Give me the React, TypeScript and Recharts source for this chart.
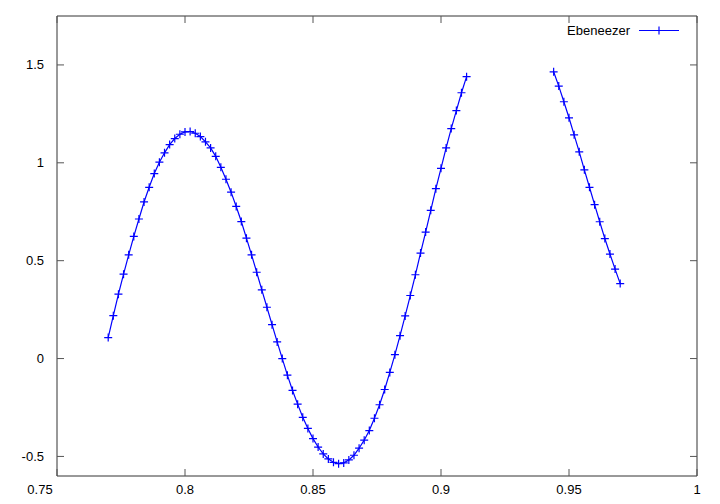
import { LineChart, Line, XAxis, YAxis } from 'recharts';

// first run of points, before the gap
const seg1X = [
  0.770, 0.772, 0.774, 0.776, 0.778, 0.780, 0.782, 0.784, 0.786, 0.788,
  0.790, 0.792, 0.794, 0.796, 0.798, 0.800, 0.802, 0.804, 0.806, 0.808,
  0.810, 0.812, 0.814, 0.816, 0.818, 0.820, 0.822, 0.824, 0.826, 0.828,
  0.830, 0.832, 0.834, 0.836, 0.838, 0.840, 0.842, 0.844, 0.846, 0.848,
  0.850, 0.852, 0.854, 0.856, 0.858, 0.860, 0.862, 0.864, 0.866, 0.868,
  0.870, 0.872, 0.874, 0.876, 0.878, 0.880, 0.882, 0.884, 0.886, 0.888,
  0.890, 0.892, 0.894, 0.896, 0.898, 0.900, 0.902, 0.904, 0.906, 0.908,
  0.910,
];
const seg1Y = [
  0.107, 0.219, 0.329, 0.431, 0.530, 0.624, 0.713, 0.800, 0.875, 0.945,
  1.003, 1.051, 1.093, 1.124, 1.146, 1.158, 1.160, 1.151, 1.134, 1.107,
  1.076, 1.033, 0.977, 0.916, 0.850, 0.777, 0.700, 0.615, 0.530, 0.441,
  0.351, 0.262, 0.173, 0.085, 0.000, -0.085, -0.163, -0.233, -0.300, -0.357,
  -0.409, -0.452, -0.487, -0.513, -0.530, -0.537, -0.533, -0.518, -0.494, -0.458,
  -0.417, -0.368, -0.305, -0.236, -0.158, -0.071, 0.020, 0.117, 0.218, 0.322,
  0.428, 0.539, 0.646, 0.757, 0.868, 0.972, 1.076, 1.175, 1.267, 1.358,
  1.440,
];

// second run, after the gap
const seg2X = [
  0.944, 0.946, 0.948, 0.950, 0.952, 0.954, 0.956, 0.958, 0.960, 0.962,
  0.964, 0.966, 0.968, 0.970,
];
const seg2Y = [
  1.465, 1.392, 1.312, 1.230, 1.143, 1.056, 0.964, 0.875, 0.786, 0.699,
  0.613, 0.534, 0.457, 0.383,
];

const xTicks = [0.75, 0.8, 0.85, 0.9, 0.95, 1];
const yTicks = [-0.5, 0, 0.5, 1, 1.5];
const seriesName = 'Ebeneezer';

const seg1 = seg1X.map((x, i) => ({ x, y: seg1Y[i] }));
const seg2 = seg2X.map((x, i) => ({ x, y: seg2Y[i] }));

const BLUE = '#0000ff';
const FRAME = '#333333';
const TICK_COLOR = '#555555';
const FONT = '"Liberation Sans", Arial, sans-serif';
const TICK = 7;

function PlusDot(props: any) {
  const { cx, cy, index } = props;
  if (cx == null || cy == null) return <g key={index} />;
  return (
    <path
      key={index}
      d={`M${cx - 4},${cy}H${cx + 4}M${cx},${cy - 4}V${cy + 4}`}
      stroke={BLUE}
      strokeWidth={1.2}
      fill="none"
    />
  );
}

function BottomTick({ x, y, payload, index }: any) {
  return (
    <g>
      <line x1={x} x2={x} y1={y} y2={y - TICK} stroke={TICK_COLOR} />
      <text x={x + (index === 0 ? -17 : 0)} y={y + 18} textAnchor="middle" fontSize={13} fontFamily={FONT} fill="#000">
        {payload.value}
      </text>
    </g>
  );
}

function TopTick({ x, y }: any) {
  return <line x1={x} x2={x} y1={y} y2={y + TICK} stroke={TICK_COLOR} />;
}

function LeftTick({ x, y, payload }: any) {
  return (
    <g>
      <line x1={x} x2={x + TICK} y1={y} y2={y} stroke={TICK_COLOR} />
      <text x={x - 13} y={y + 4.5} textAnchor="end" fontSize={13} fontFamily={FONT} fill="#000">
        {payload.value}
      </text>
    </g>
  );
}

function RightTick({ x, y }: any) {
  return <line x1={x} x2={x - TICK} y1={y} y2={y} stroke={TICK_COLOR} />;
}

function LegendBox() {
  return (
    <svg width={140} height={24} style={{ position: 'absolute', left: 555, top: 19 }}>
      <text x={75} y={16} textAnchor="end" fontSize={13} fontFamily={FONT} fill="#000">
        {seriesName}
      </text>
      <line x1={84} x2={124} y1={11.5} y2={11.5} stroke={BLUE} strokeWidth={1.2} />
      <path d="M100,11.5H108M104,7.5V15.5" stroke={BLUE} strokeWidth={1.2} />
    </svg>
  );
}

export default function App() {
  return (
    <div style={{ position: 'absolute', left: 0, top: 0, width: 720, height: 504, background: '#fff' }}>
      <LineChart width={720} height={504} margin={{ top: 0, right: 0, bottom: 0, left: 0 }}>
        <XAxis
          dataKey="x"
          type="number"
          domain={[0.75, 1]}
          ticks={xTicks}
          allowDataOverflow
          height={28}
          tickSize={0}
          tickMargin={0}
          tickLine={false}
          axisLine={{ stroke: FRAME }}
          tick={BottomTick}
        />
        <XAxis
          xAxisId="top"
          orientation="top"
          dataKey="x"
          type="number"
          domain={[0.75, 1]}
          ticks={xTicks}
          allowDataOverflow
          height={16}
          tickSize={0}
          tickMargin={0}
          tickLine={false}
          axisLine={{ stroke: FRAME }}
          tick={TopTick}
        />
        <YAxis
          type="number"
          domain={[-0.6, 1.75]}
          ticks={yTicks}
          allowDataOverflow
          width={57}
          tickSize={0}
          tickMargin={0}
          tickLine={false}
          axisLine={{ stroke: FRAME }}
          tick={LeftTick}
        />
        <YAxis
          yAxisId="right"
          orientation="right"
          type="number"
          domain={[-0.6, 1.75]}
          ticks={yTicks}
          allowDataOverflow
          width={23}
          tickSize={0}
          tickMargin={0}
          tickLine={false}
          axisLine={{ stroke: FRAME }}
          tick={RightTick}
        />
        <Line
          data={seg1}
          dataKey="y"
          name={seriesName}
          type="linear"
          stroke={BLUE}
          strokeWidth={1.2}
          dot={PlusDot}
          activeDot={false}
          isAnimationActive={false}
        />
        <Line
          data={seg2}
          dataKey="y"
          name={seriesName}
          type="linear"
          stroke={BLUE}
          strokeWidth={1.2}
          dot={PlusDot}
          activeDot={false}
          isAnimationActive={false}
        />
      </LineChart>
      <LegendBox />
    </div>
  );
}
